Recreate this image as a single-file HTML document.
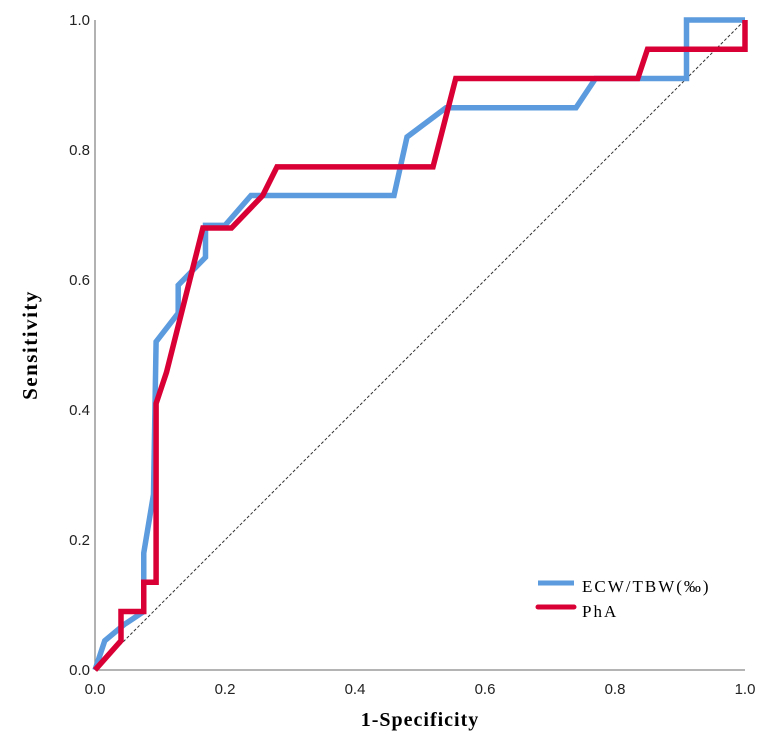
<!DOCTYPE html>
<html><head><meta charset="utf-8"><style>
html,body{margin:0;padding:0;background:#fff;width:767px;height:753px;overflow:hidden}
svg text{font-family:"Liberation Sans",sans-serif}
</style></head><body>
<svg id="chart" width="767" height="753" xmlns="http://www.w3.org/2000/svg">
<g id="axes"></g><g id="series"></g>
<g>
<line x1="538" y1="583" x2="574" y2="583" stroke="#5b9bde" stroke-width="5"/>
<text x="582" y="592" font-size="17" style="font-family:'Liberation Serif',serif;letter-spacing:2px">ECW/TBW(‰)</text>
<line x1="538" y1="607" x2="574" y2="607" stroke="#d90036" stroke-width="5" stroke-linecap="round"/>
<text x="582" y="617" font-size="17" style="font-family:'Liberation Serif',serif;letter-spacing:2px">PhA</text>
</g>
<text x="420" y="726" font-size="20" font-weight="bold" text-anchor="middle" style="font-family:'Liberation Serif',serif;letter-spacing:1px">1-Specificity</text>
<text transform="translate(37,345) rotate(-90)" font-size="21" font-weight="bold" text-anchor="middle" style="font-family:'Liberation Serif',serif;letter-spacing:1.5px">Sensitivity</text>
</svg>
<script>
const ticks=[0,0.2,0.4,0.6,0.8,1.0];
const tickLabels=["0.0","0.2","0.4","0.6","0.8","1.0"];
const ecwX=[0,0.015,0.045,0.075,0.075,0.09,0.094,0.128,0.128,0.17,0.17,0.2,0.24,0.46,0.48,0.54,0.74,0.77,0.91,0.91,1.0];
const ecwY=[0,0.045,0.07,0.09,0.18,0.27,0.505,0.549,0.592,0.635,0.684,0.684,0.73,0.73,0.82,0.865,0.865,0.91,0.91,1.0,1.0];
const phaX=[0,0.04,0.04,0.075,0.075,0.094,0.094,0.11,0.166,0.21,0.258,0.28,0.52,0.555,0.835,0.85,1.0,1.0];
const phaY=[0,0.045,0.09,0.09,0.135,0.135,0.41,0.458,0.68,0.68,0.73,0.774,0.774,0.91,0.91,0.955,0.955,1.0];
const X0=95,X1=745,Y0=670,Y1=20;
const sx=v=>X0+v*(X1-X0), sy=v=>Y0-v*(Y0-Y1);
const NS="http://www.w3.org/2000/svg";
const ax=document.getElementById('axes'), se=document.getElementById('series');
function mk(tag,attrs,parent){const e=document.createElementNS(NS,tag);for(const k in attrs)e.setAttribute(k,attrs[k]);parent.appendChild(e);return e;}
let l=mk('line',{x1:X0,y1:Y0,x2:X1,y2:Y0,stroke:'#888','stroke-width':1.3},ax);


l=mk('line',{x1:X0,y1:Y0,x2:X0,y2:Y1,stroke:'#888','stroke-width':1.3},ax);


ticks.forEach((t,i)=>{
 let tx=mk('text',{x:sx(t),y:Y0+24,'font-size':15,'text-anchor':'middle',fill:'#222'},ax);tx.textContent=tickLabels[i];
 
 
 let ty=mk('text',{x:X0-5,y:sy(t)+5,'font-size':15,'text-anchor':'end',fill:'#222'},ax);ty.textContent=tickLabels[i];
 
 
});
l=mk('line',{x1:sx(0),y1:sy(0),x2:sx(1),y2:sy(1),stroke:'#333','stroke-width':1,'stroke-dasharray':'3,2'},se);


function pts(xs,ys){return xs.map((x,i)=>sx(x)+','+sy(ys[i])).join(' ');}
let p=mk('polyline',{points:pts(ecwX,ecwY),fill:'none',stroke:'#5b9bde','stroke-width':5.5,'stroke-linejoin':'miter'},se);


p=mk('polyline',{points:pts(phaX,phaY),fill:'none',stroke:'#d90036','stroke-width':5.5,'stroke-linejoin':'miter'},se);


</script>
</body></html>
